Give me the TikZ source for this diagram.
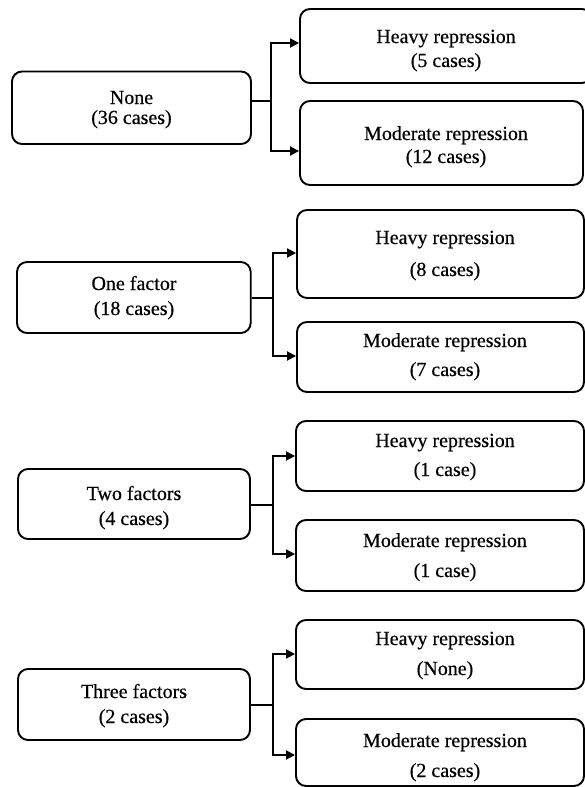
\documentclass[tikz,border=0pt]{standalone}
\usepackage{fontspec}
\newfontfamily\boxfont{Liberation Serif}[UprightFeatures={FakeBold=0.5}]
\usetikzlibrary{arrows.meta}
\begin{document}
\begin{tikzpicture}[x=1pt,y=-1pt,
  box/.style={draw=black, line width=1.9pt, rounded corners=10pt, inner sep=0pt},
  txt/.style={anchor=base, inner sep=0pt, font=\boxfont\fontsize{20}{24}\selectfont, text=black},
  link/.style={draw=black, line width=1.8pt},
  arr/.style={link, -{Triangle[length=9pt,width=9pt]}}]
\useasboundingbox (0,0) rectangle (585,787);

% ---------- None ----------
\node[box, minimum width=239pt, minimum height=72.5pt] (L1) at (131.5,107.75) {};
\node[box, minimum width=292pt, minimum height=74pt]   (H1) at (446,46) {};
\node[box, minimum width=283pt, minimum height=84pt]   (M1) at (441.5,143) {};
\node[txt] (L1a) at (131.5,104) {None};
\node[txt] (L1b) at (131.5,124) {(36 cases)};
\node[txt] (H1a) at (446,43) {Heavy repression};
\node[txt] (H1b) at (446,67) {(5 cases)};
\node[txt] (M1a) at (446,140) {Moderate repression};
\node[txt] (M1b) at (446,163) {(12 cases)};
\coordinate (J1) at (270.7,101);
\coordinate (U1) at (0,43);
\coordinate (D1) at (0,151);
\draw[link] (L1.east |- J1) -- (J1);
\draw[arr] (J1) |- (H1.west |- U1);
\draw[arr] (J1) |- (M1.west |- D1);

% ---------- One factor ----------
\node[box, minimum width=233.7pt, minimum height=71pt] (L2) at (133.85,297.5) {};
\node[box, minimum width=287pt, minimum height=88pt]   (H2) at (440.5,254) {};
\node[box, minimum width=287pt, minimum height=70pt]   (M2) at (440.5,357) {};
\node[txt] (L2a) at (134,290) {One factor};
\node[txt] (L2b) at (134,315) {(18 cases)};
\node[txt] (H2a) at (445,244) {Heavy repression};
\node[txt] (H2b) at (445,276) {(8 cases)};
\node[txt] (M2a) at (445,347) {Moderate repression};
\node[txt] (M2b) at (445,376) {(7 cases)};
\coordinate (J2) at (272.7,298);
\coordinate (U2) at (0,253);
\coordinate (D2) at (0,356);
\draw[link] (L2.east |- J2) -- (J2);
\draw[arr] (J2) |- (H2.west |- U2);
\draw[arr] (J2) |- (M2.west |- D2);

% ---------- Two factors ----------
\node[box, minimum width=232pt, minimum height=70pt] (L3) at (134,504) {};
\node[box, minimum width=288pt, minimum height=70pt] (H3) at (440,456) {};
\node[box, minimum width=288pt, minimum height=71pt] (M3) at (440,555.5) {};
\node[txt] (L3a) at (134,500) {Two factors};
\node[txt] (L3b) at (134,525) {(4 cases)};
\node[txt] (H3a) at (445,447) {Heavy repression};
\node[txt] (H3b) at (445,476) {(1 case)};
\node[txt] (M3a) at (445,547) {Moderate repression};
\node[txt] (M3b) at (445,577) {(1 case)};
\coordinate (J3) at (272.7,505);
\coordinate (U3) at (0,456);
\coordinate (D3) at (0,554);
\draw[link] (L3.east |- J3) -- (J3);
\draw[arr] (J3) |- (H3.west |- U3);
\draw[arr] (J3) |- (M3.west |- D3);

% ---------- Three factors ----------
\node[box, minimum width=232pt, minimum height=71pt] (L4) at (134,704.5) {};
\node[box, minimum width=288pt, minimum height=69pt] (H4) at (440,654.5) {};
\node[box, minimum width=288pt, minimum height=67pt] (M4) at (440,752.5) {};
\node[txt] (L4a) at (134,698) {Three factors};
\node[txt] (L4b) at (134,723) {(2 cases)};
\node[txt] (H4a) at (445,645) {Heavy repression};
\node[txt] (H4b) at (445,675) {(None)};
\node[txt] (M4a) at (445,747) {Moderate repression};
\node[txt] (M4b) at (445,777) {(2 cases)};
\coordinate (J4) at (272.7,705);
\coordinate (U4) at (0,654);
\coordinate (D4) at (0,755);
\draw[link] (L4.east |- J4) -- (J4);
\draw[arr] (J4) |- (H4.west |- U4);
\draw[arr] (J4) |- (M4.west |- D4);
\end{tikzpicture}
\end{document}
